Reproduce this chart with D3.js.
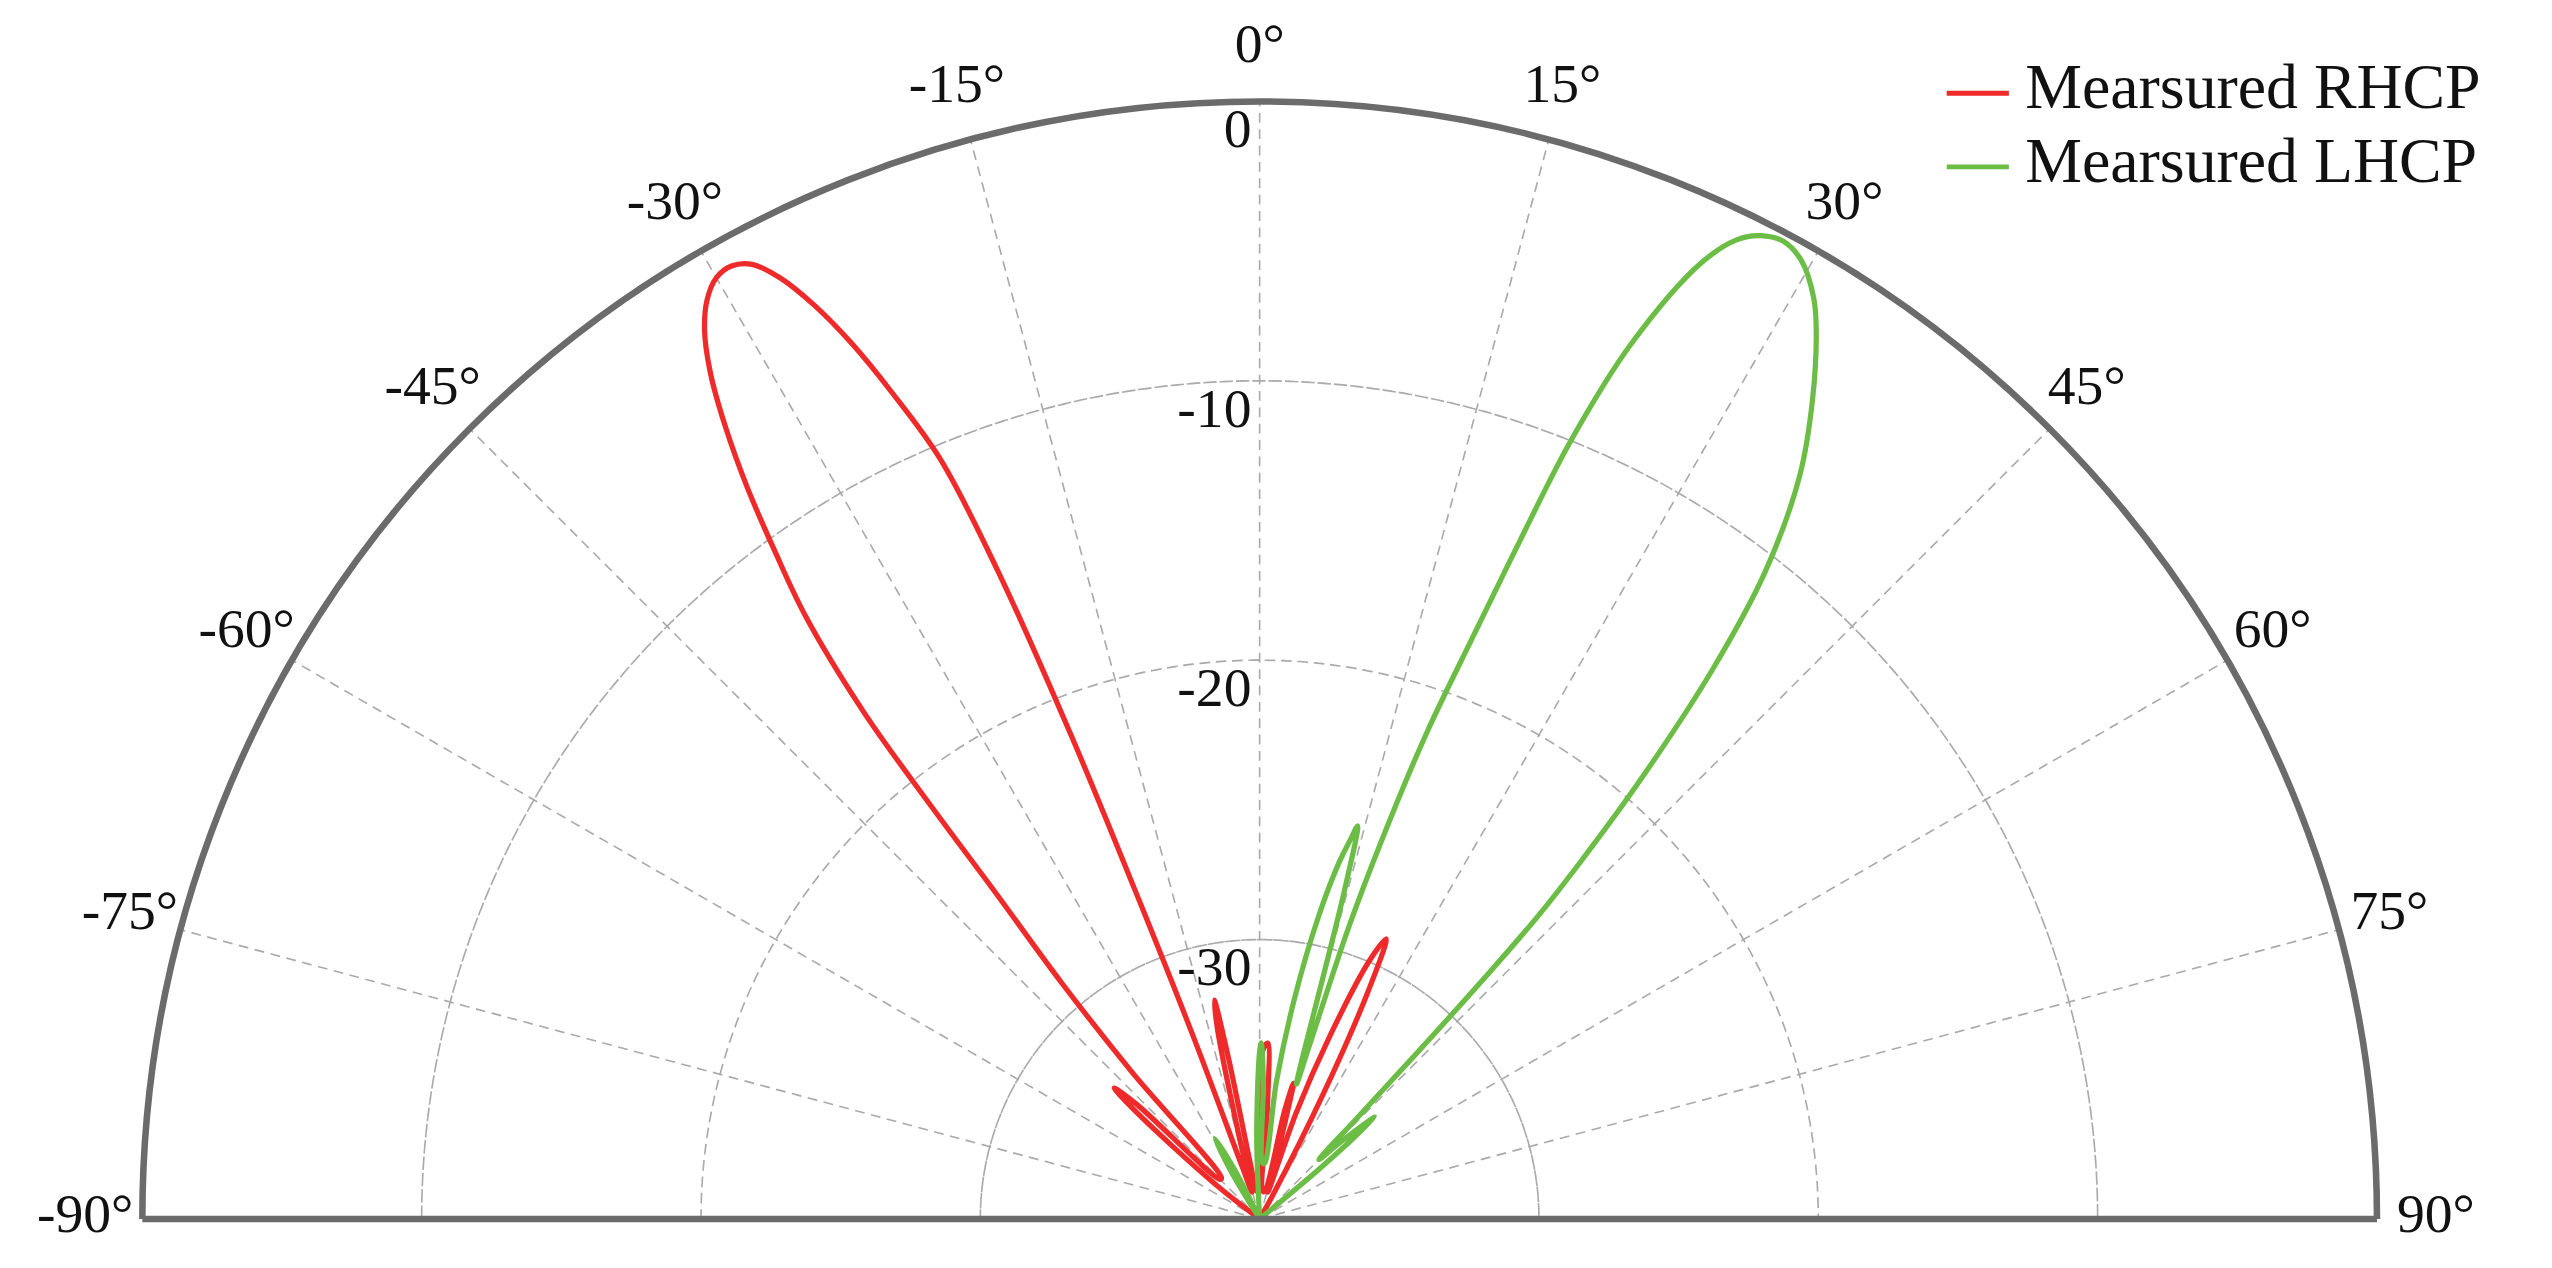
<!DOCTYPE html>
<html>
<head>
<meta charset="utf-8">
<script src="https://cdn.jsdelivr.net/npm/d3@7"></script>
<style>
  html, body { margin: 0; padding: 0; background: #fff; overflow: hidden; }
  text { font-family: "Liberation Serif", "DejaVu Serif", serif; fill: #111; }
</style>
</head>
<body>
<div id="chart"></div>
<script>
// angle ticks (deg) and ring ticks (dB)
const angleTicks = [-90, -75, -60, -45, -30, -15, 0, 15, 30, 45, 60, 75, 90];
const ringTicks = [0, -10, -20, -30];

// Measured RHCP: [angle deg, gain dB]
const rhcpAngle = [-90, -56, -52, -49, -48, -47, -45, -43, -41, -40, -39, -38.5, -38, -37, -36, -35, -34, -33, -32, -31, -30, -29, -28, -27, -26, -25, -24, -22.8, -22, -21.3, -20.7, -20, -18.5, -16, -14, -12.5, -11.7, -11, -9.5, -6, -3, -1, 1, 2.6, 4, 6, 10, 13, 14, 15, 17, 19, 21, 23, 24.3, 25.5, 27, 29, 35, 90];
const rhcpGain  = [-40, -40, -38, -34, -33, -34, -38, -38, -33, -29, -25, -21, -17, -13, -10.5, -8, -5.8, -3.9, -2.5, -1.6, -1.1, -1.0, -1.3, -2.2, -3.6, -5.4, -7.6, -10.5, -15, -21.4, -28, -33, -38, -39, -37, -33, -32, -34, -38, -39, -39, -37, -34, -33.7, -36, -39, -39, -36, -35, -37, -39, -36, -33, -30, -29, -31, -35, -39, -40, -40];

// Measured LHCP
const lhcpAngle = [-90, -35, -31, -29, -27, -20, -5, -2, 0, 0.5, 1.5, 3, 5, 7, 9, 11, 12.5, 13.5, 14, 14.5, 15.3, 16, 17, 18.1, 19, 20.1, 21, 21.8, 23, 24.8, 26, 27, 28.2, 29.5, 31, 32, 34, 36, 38, 39.5, 41, 42, 42.6, 43, 43.5, 44, 45, 46.5, 48.5, 50, 52, 90];
const lhcpGain  = [-40, -40, -38, -36.7, -38, -40, -40, -37, -34, -33.7, -35, -38, -38, -35, -32, -29, -27, -26, -25.5, -28, -35, -33.6, -29, -24.9, -21.5, -17.9, -14, -10, -6, -2.3, -1, -0.5, -0.3, -0.6, -1.5, -2.4, -4.6, -7.1, -10.6, -14.5, -19.4, -23, -25.3, -28, -32, -35, -37, -36, -34.5, -37, -40, -40];

const seriesNames = ["Mearsured RHCP", "Mearsured LHCP"];
const seriesColors = ["#ee2a2a", "#6cbd45"];

const W = 1560, H = 775;
const cx = 770, cy = 745, R = 683;

const svg = d3.select("#chart").append("svg")
    .attr("width", 2552).attr("height", 1268)
    .attr("viewBox", `0 0 ${W} ${H}`)
    .attr("preserveAspectRatio", "none");

const g = svg.append("g").attr("transform", `translate(${cx},${cy})`);

const rScale = d3.scaleLinear().domain([-40, 0]).range([0, R]);
const aScale = d3.scaleLinear().domain([-90, 90]).range([-Math.PI / 2, Math.PI / 2]);

// grid rings
const arc = d3.arc().startAngle(-Math.PI / 2).endAngle(Math.PI / 2);
g.selectAll(".ring").data(ringTicks.filter(d => d !== 0)).enter()
    .append("path")
    .attr("d", d => arc({ innerRadius: rScale(d), outerRadius: rScale(d) }))
    .attr("fill", "none").attr("stroke", "#aaa").attr("stroke-width", 1)
    .attr("stroke-dasharray", "6,4");

// spokes
g.selectAll(".spoke").data(angleTicks.filter(d => Math.abs(d) !== 90)).enter()
    .append("line")
    .attr("x1", 0).attr("y1", 0)
    .attr("x2", d => R * Math.sin(aScale(d)))
    .attr("y2", d => -R * Math.cos(aScale(d)))
    .attr("stroke", "#aaa").attr("stroke-width", 1)
    .attr("stroke-dasharray", "6,4");

// data lines
const line = d3.lineRadial()
    .angle(d => aScale(d[0]))
    .radius(d => rScale(Math.max(-40, d[1])))
    .curve(d3.curveCatmullRom.alpha(0.5));

const rhcp = d3.zip(rhcpAngle, rhcpGain);
const lhcp = d3.zip(lhcpAngle, lhcpGain);
[rhcp, lhcp].forEach((s, i) => {
    g.append("path").attr("d", line(s))
        .attr("fill", "none").attr("stroke", seriesColors[i])
        .attr("stroke-width", 3.2).attr("stroke-linejoin", "round");
});

// outer frame
g.append("path")
    .attr("d", arc({ innerRadius: R, outerRadius: R }))
    .attr("fill", "none").attr("stroke", "#6b6b6b").attr("stroke-width", 4);
g.append("line").attr("x1", -R).attr("x2", R).attr("y1", 0).attr("y2", 0)
    .attr("stroke", "#6b6b6b").attr("stroke-width", 4);

// angle labels
g.selectAll(".alabel").data(angleTicks).enter()
    .append("text")
    .attr("x", d => {
        if (d === -90) return -R - 35;
        if (d === 90) return R + 36;
        return (R + 32) * Math.sin(aScale(d));
    })
    .attr("y", d => Math.abs(d) === 90 ? 0 : -(R + 32) * Math.cos(aScale(d)))
    .attr("text-anchor", "middle")
    .attr("dominant-baseline", "middle")
    .attr("font-size", 34)
    .text(d => d + "°");

// ring labels
g.selectAll(".rlabel").data(ringTicks).enter()
    .append("text")
    .attr("x", -5)
    .attr("y", d => -rScale(d) + 28)
    .attr("text-anchor", "end")
    .attr("font-size", 34)
    .text(d => d);

// legend
const leg = svg.append("g").attr("transform", "translate(1190,57)");
seriesNames.forEach((name, i) => {
    const row = leg.append("g").attr("transform", `translate(0,${i * 45})`);
    row.append("line").attr("x1", 0).attr("x2", 38).attr("y1", 0).attr("y2", 0)
        .attr("stroke", seriesColors[i]).attr("stroke-width", 3);
    row.append("text").attr("x", 48).attr("y", 0)
        .attr("dominant-baseline", "middle").attr("font-size", 39).text(name);
});
</script>
</body>
</html>
